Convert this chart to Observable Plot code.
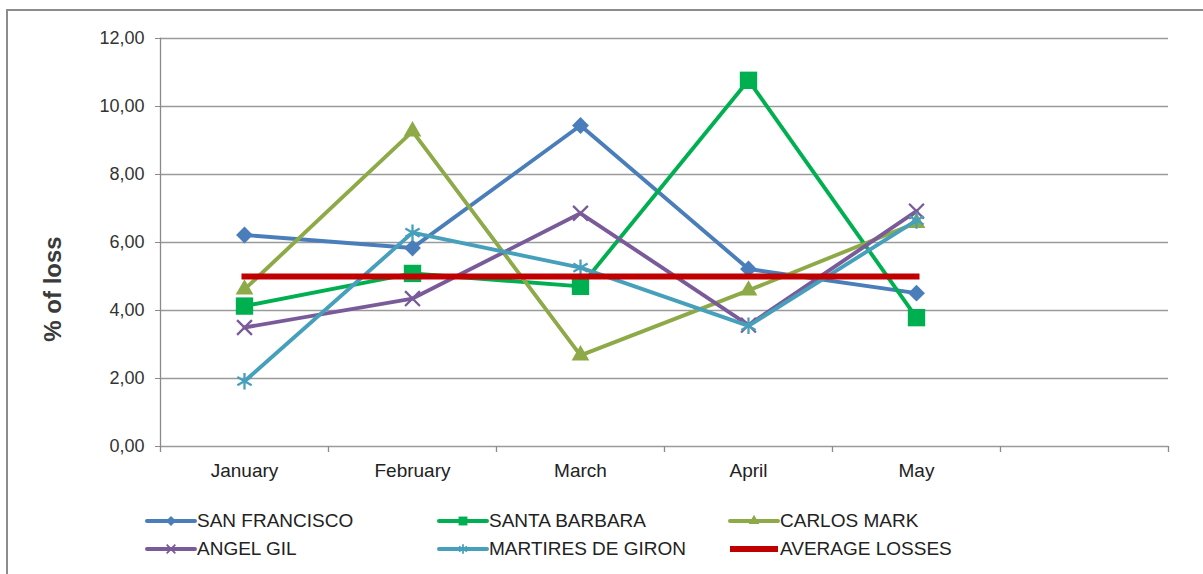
<!DOCTYPE html>
<html>
<head>
<meta charset="utf-8">
<script src="https://cdn.jsdelivr.net/npm/d3@7"></script>
<script src="https://cdn.jsdelivr.net/npm/@observablehq/plot@0.6"></script>
<style>
  html, body { margin: 0; padding: 0; background: #fff; overflow: hidden; }
  body { width: 1203px; height: 574px; position: relative; font-family: "Liberation Sans", Arial, sans-serif; }
  #frame { position: absolute; left: 6px; top: 9px; width: 1210px; height: 600px; border-left: 2px solid #8c8c8c; border-top: 2px solid #8c8c8c; }
  #chart { position: absolute; left: 0; top: 0; }
  #ytitle { position: absolute; left: 53px; top: 289px; transform: translate(-50%, -50%) rotate(-90deg); font-size: 24px; font-weight: bold; color: #3a3a3a; white-space: nowrap; }
  #legend { position: absolute; left: 0; top: 0; width: 1203px; height: 574px; pointer-events: none; }
  .lg { position: absolute; display: flex; align-items: center; font-size: 19px; color: #222; white-space: nowrap; }
  .lg svg { display: block; }
</style>
</head>
<body>
<div id="frame"></div>
<div id="chart"></div>
<div id="ytitle">% of loss</div>
<div id="legend"></div>
<script>
// ---- data ----
const months = ["January", "February", "March", "April", "May"];
const slots = [...months, ""];            // empty sixth category on the axis
const yTicks = [0, 2, 4, 6, 8, 10, 12];

const seriesNames = ["SAN FRANCISCO", "SANTA BARBARA", "CARLOS MARK", "ANGEL GIL", "MARTIRES DE GIRON", "AVERAGE LOSSES"];
const sanFrancisco = [6.22, 5.84, 9.44, 5.22, 4.51];
const santaBarbara = [4.13, 5.09, 4.71, 10.77, 3.79];
const carlosMark   = [4.62, 9.27, 2.68, 4.59, 6.58];
const angelGil     = [3.50, 4.35, 6.86, 3.57, 6.92];
const martires     = [1.92, 6.29, 5.26, 3.55, 6.65];
const averageLoss  = [5.00, 5.00, 5.00, 5.00, 5.00];

const seriesValues = [sanFrancisco, santaBarbara, carlosMark, angelGil, martires, averageLoss];
const seriesColors = ["#4A7EBB", "#00B050", "#8EAA48", "#7A5B9A", "#46A0BC", "#C00000"];
const seriesSymbols = ["diamond2", "square", "triangle", "times", "asterisk", null];

const rows = [];
seriesNames.forEach((name, s) => {
  months.forEach((m, i) => rows.push({series: name, month: m, value: seriesValues[s][i]}));
});
const fmt = d3.format(".2f");
const yFmt = d => fmt(d).replace(".", ",");

// ---- marks ----
const marks = [
  Plot.ruleY(yTicks, {stroke: "#9a9a9a", strokeWidth: 1.3}),
  Plot.axisY(yTicks, {tickSize: 5, tickPadding: 11, tickFormat: yFmt, fontSize: 18, stroke: "#8a8a8a", fill: "#333", label: null}),
  Plot.axisX(slots, {tickSize: 0, tickPadding: 17, fontSize: 19, fill: "#222", label: null}),
  Plot.axisX(slots, {tickSize: 6, tickFormat: () => "", dx: -84, stroke: "#8a8a8a", strokeWidth: 1.3, label: null}),
  Plot.axisX([""], {tickSize: 6, tickFormat: () => "", dx: 84, stroke: "#8a8a8a", strokeWidth: 1.3, label: null}),
  Plot.frame({anchor: "left", stroke: "#8a8a8a", strokeWidth: 1.3})
];

const symbolR = {diamond2: 7.6, square: 9.8, triangle: 6.6, times: 6.8, asterisk: 7.8};
seriesNames.forEach((name, s) => {
  const data = rows.filter(d => d.series === name);
  const isAvg = seriesSymbols[s] === null;
  marks.push(Plot.lineY(data, {
    x: "month", y: "value", stroke: seriesColors[s],
    strokeWidth: isAvg ? 6 : 3.9, strokeLinecap: isAvg ? "square" : "round", strokeLinejoin: "round"
  }));
  if (!isAvg) {
    const sym = seriesSymbols[s];
    const stroked = sym === "times" || sym === "asterisk";
    marks.push(Plot.dot(data, {
      x: "month", y: "value", symbol: () => sym, r: symbolR[sym],
      fill: stroked ? "none" : seriesColors[s],
      stroke: seriesColors[s], strokeWidth: stroked ? 2.3 : 0
    }));
  }
});

const chart = Plot.plot({
  width: 1203,
  height: 495,
  marginLeft: 160,
  marginRight: 35,
  marginTop: 38,
  marginBottom: 49,
  x: {type: "band", domain: slots, padding: 0, axis: null},
  y: {domain: [0, 12], axis: null},
  symbol: {type: "identity"},
  style: {fontFamily: "'Liberation Sans', Arial, sans-serif", background: "transparent", overflow: "visible"},
  marks
});
document.getElementById("chart").appendChild(chart);

// ---- legend ----
const legendPos = [[145, 521], [437, 521], [728, 521], [145, 549], [437, 549], [728, 549]];
const legendR = {diamond2: 4.5, square: 5, triangle: 4, times: 4, asterisk: 4.5};
const symMap = {diamond2: d3.symbolDiamond2, square: d3.symbolSquare, triangle: d3.symbolTriangle, times: d3.symbolTimes, asterisk: d3.symbolAsterisk};
const legend = document.getElementById("legend");
seriesNames.forEach((name, s) => {
  const item = document.createElement("div");
  item.className = "lg";
  item.style.left = legendPos[s][0] + "px";
  item.style.top = (legendPos[s][1] - 12) + "px";
  item.style.height = "24px";
  const svg = d3.create("svg").attr("width", 52).attr("height", 24);
  const isAvg = seriesSymbols[s] === null;
  svg.append("line").attr("x1", 2).attr("x2", 50).attr("y1", 12).attr("y2", 12)
    .attr("stroke", seriesColors[s]).attr("stroke-width", isAvg ? 6 : 4).attr("stroke-linecap", isAvg ? "butt" : "round");
  if (!isAvg) {
    const sym = seriesSymbols[s];
    const stroked = sym === "times" || sym === "asterisk";
    const r = legendR[sym];
    svg.append("path").attr("transform", "translate(26,12)")
      .attr("d", d3.symbol(symMap[sym], Math.PI * r * r)())
      .attr("fill", stroked ? "none" : seriesColors[s])
      .attr("stroke", stroked ? seriesColors[s] : "none").attr("stroke-width", 1.8);
  }
  item.appendChild(svg.node());
  const t = document.createElement("span");
  t.textContent = name;
  item.appendChild(t);
  legend.appendChild(item);
});
</script>
</body>
</html>
